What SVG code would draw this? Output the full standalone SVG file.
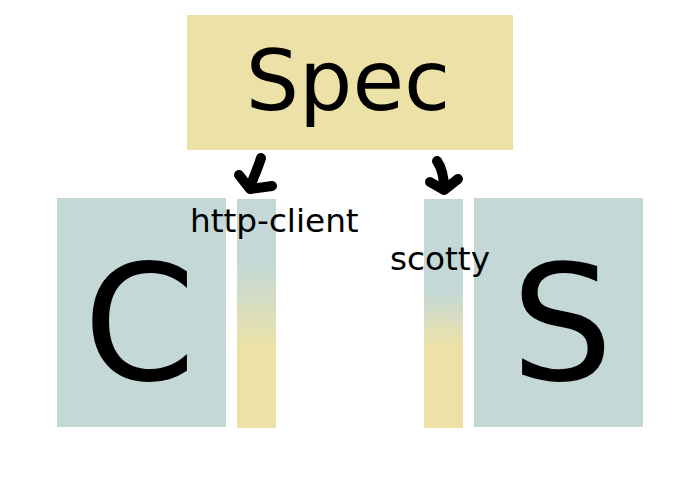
<svg xmlns="http://www.w3.org/2000/svg" width="700" height="500" viewBox="0 0 700 500">
<style>
.big{font-family:"DejaVu Sans",sans-serif;fill:#000;text-anchor:middle}
.lbl{font-family:"DejaVu Sans",sans-serif;font-size:32.7px;fill:#000}
.blue{fill:#c3d8d7}
.arrow{fill:none;stroke:#000;stroke-width:10;stroke-linecap:round;stroke-linejoin:round}
</style>
<defs>
<linearGradient id="gL" x1="0" y1="199" x2="0" y2="428" gradientUnits="userSpaceOnUse">
<stop offset="0.28" stop-color="#c3d8d7"/>
<stop offset="0.65" stop-color="#ece2a8"/>
</linearGradient>
<linearGradient id="gR" x1="0" y1="199" x2="0" y2="428" gradientUnits="userSpaceOnUse">
<stop offset="0.4" stop-color="#c3d8d7"/>
<stop offset="0.64" stop-color="#ece2a8"/>
</linearGradient>
</defs>
<rect width="700" height="500" fill="#fff"/>
<g id="spec">
<rect x="187" y="15" width="326" height="135" fill="#ece2a8"/>
<text class="big" x="348" y="110" font-size="84">Spec</text>
</g>
<g id="client">
<rect class="blue" x="57" y="198" width="169" height="229"/>
<text class="big" x="139.5" y="380" font-size="161">C</text>
</g>
<g id="server">
<rect class="blue" x="474" y="198" width="169" height="229"/>
<text class="big" x="562" y="380" font-size="161">S</text>
</g>
<g id="http-client">
<rect x="237" y="199" width="39" height="229" fill="url(#gL)"/>
<text class="lbl" x="190" y="232">http-client</text>
</g>
<g id="scotty">
<rect x="424" y="199" width="39" height="229" fill="url(#gR)"/>
<text class="lbl" x="390" y="270">scotty</text>
</g>
<g id="connectors">
<path class="arrow" d="M261,158 C258,168 253,178 250,188"/>
<path class="arrow" d="M239,175 L250,189 L272,186"/>
<path class="arrow" d="M437,161 C442,168 444,178 444,189"/>
<path class="arrow" d="M430,182 L444,190 L458,179"/>
</g>
</svg>
